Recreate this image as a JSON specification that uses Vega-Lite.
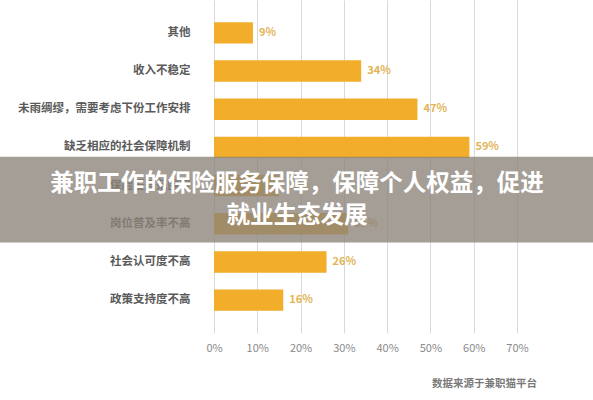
{
  "$schema": "https://vega.github.io/schema/vega-lite/v6.json",
  "width": 303,
  "height": 333,
  "autosize": "none",
  "padding": {"left": 214, "top": 0, "right": 76, "bottom": 67},
  "background": "white",
  "config": {
    "view": {"stroke": null},
    "font": "Noto Sans CJK SC"
  },
  "title": {
    "text": "数据来源于兼职猫平台",
    "orient": "bottom",
    "anchor": "start",
    "frame": "group",
    "dx": 218,
    "offset": 26,
    "fontSize": 10.5,
    "fontWeight": "bold",
    "color": "#7a7a7a",
    "font": "Noto Sans CJK SC"
  },
  "data": {
    "values": [
      {"reason": "其他", "share": 0.09},
      {"reason": "收入不稳定", "share": 0.34},
      {"reason": "未雨绸缪，需要考虑下份工作安排", "share": 0.47},
      {"reason": "缺乏相应的社会保障机制", "share": 0.59},
      {"reason": "保险覆盖范围窄", "share": 0.15},
      {"reason": "岗位普及率不高", "share": 0.31},
      {"reason": "社会认可度不高", "share": 0.26},
      {"reason": "政策支持度不高", "share": 0.16}
    ]
  },
  "encoding": {
    "y": {
      "field": "reason",
      "type": "nominal",
      "sort": null,
      "title": null,
      "scale": {"paddingInner": 0.44, "paddingOuter": 0.58},
      "axis": {
        "domain": false,
        "ticks": false,
        "labelPadding": 24,
        "labelFontSize": 11.5,
        "labelFontWeight": "bold",
        "labelColor": "#5a5a5a",
        "labelFont": "Noto Sans CJK SC",
        "labelLimit": 300
      }
    }
  },
  "layer": [
    {
      "mark": {"type": "bar", "color": "#F2AD2A"},
      "encoding": {
        "x": {
          "field": "share",
          "type": "quantitative",
          "title": null,
          "scale": {"domain": [0, 0.7], "nice": false},
          "axis": {
            "format": ".0%",
            "values": [0, 0.1, 0.2, 0.3, 0.4, 0.5, 0.6, 0.7],
            "domain": false,
            "ticks": false,
            "grid": true,
            "gridColor": "#d9d9d9",
            "labelFlush": false,
            "labelPadding": 9,
            "labelFontSize": 11,
            "labelColor": "#8a8a8a",
            "labelFont": "Noto Sans CJK SC"
          }
        }
      }
    },
    {
      "mark": {
        "type": "text",
        "align": "left",
        "baseline": "middle",
        "dx": 6,
        "fontSize": 11,
        "fontWeight": "bold",
        "color": "#E2B457"
      },
      "encoding": {
        "x": {"field": "share", "type": "quantitative"},
        "text": {"field": "share", "type": "quantitative", "format": ".0%"}
      }
    },
    {
      "data": {"values": [{"top": "缺乏相应的社会保障机制", "bottom": "岗位普及率不高"}]},
      "mark": {"type": "rect", "color": "#8a837a", "opacity": 0.78},
      "encoding": {
        "x": {"datum": -0.55},
        "x2": {"datum": 0.92},
        "y": {"field": "top", "type": "nominal", "bandPosition": 0.935},
        "y2": {"field": "bottom", "bandPosition": 1.38}
      }
    },
    {
      "data": {"values": [{"row": "保险覆盖范围窄", "headline": ["兼职工作的保险服务保障，保障个人权益，促进", "就业生态发展"]}]},
      "mark": {
        "type": "text",
        "align": "center",
        "baseline": "middle",
        "fontSize": 23.5,
        "fontWeight": "bold",
        "lineHeight": 32,
        "color": "white",
        "font": "Noto Sans CJK SC"
      },
      "encoding": {
        "x": {"datum": 0.192},
        "y": {"field": "row", "type": "nominal", "bandPosition": 0.43},
        "text": {"field": "headline"}
      }
    }
  ]
}
